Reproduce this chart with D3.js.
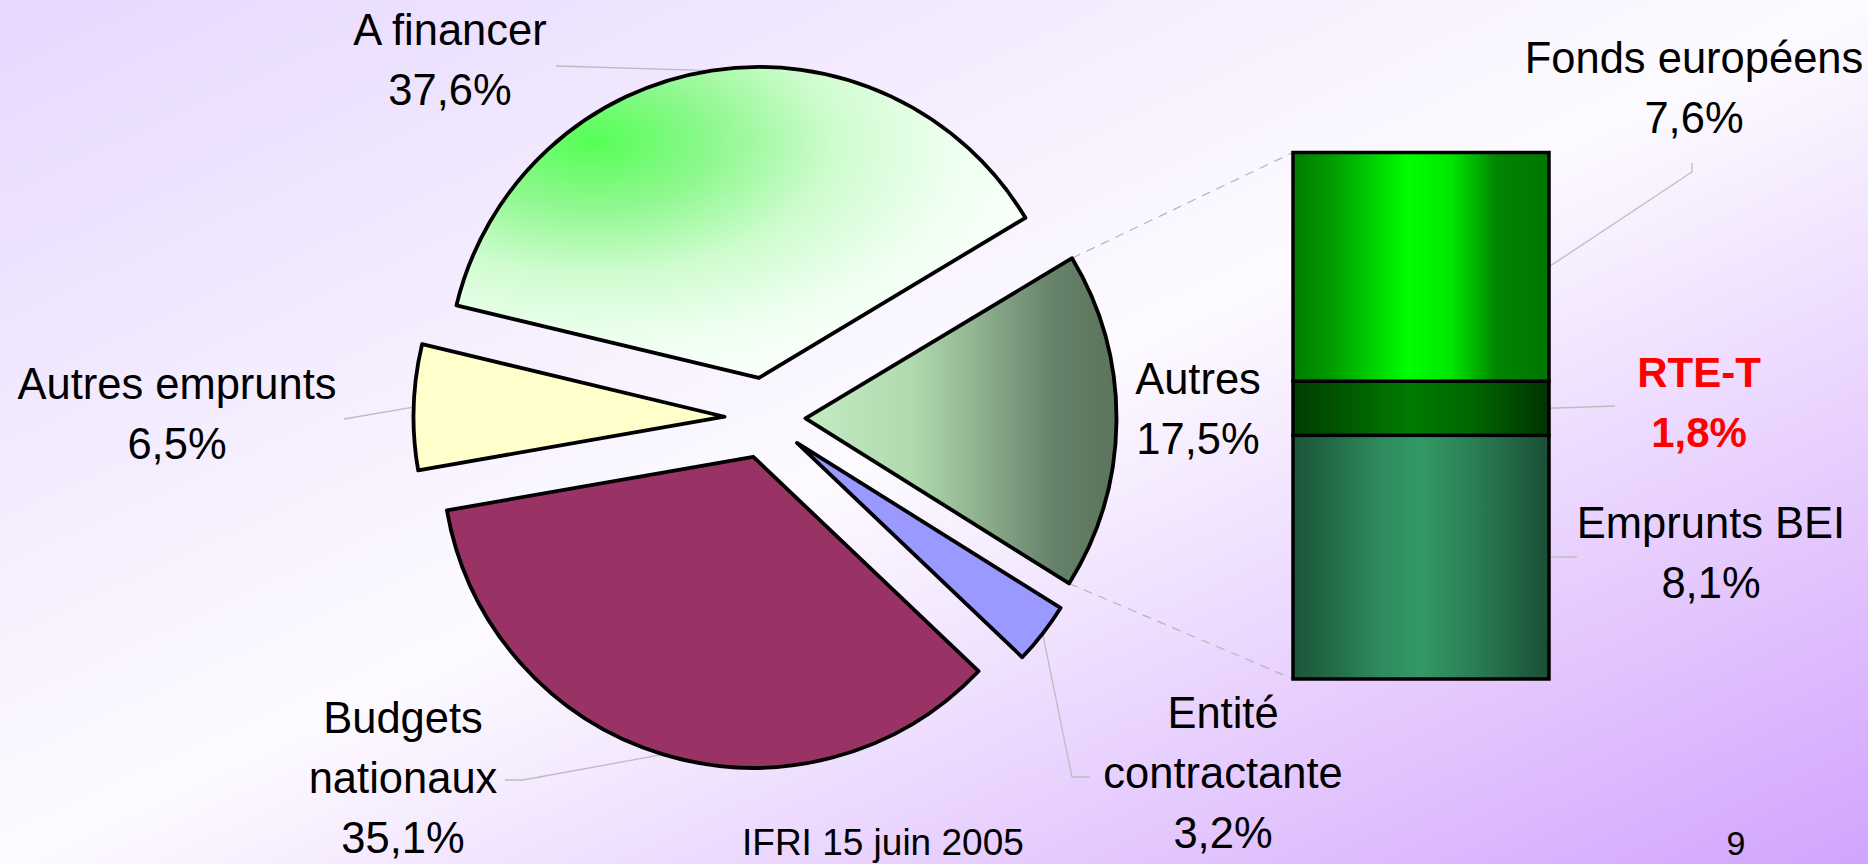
<!DOCTYPE html>
<html><head><meta charset="utf-8">
<script src="https://cdn.jsdelivr.net/npm/d3@7"></script>
<style>html,body{margin:0;padding:0;overflow:hidden;background:#fff;} svg{display:block;}</style>
</head><body>
<svg id="chart" width="1868" height="864"></svg>
<script>
// ---- data ----
const pieCategories = ["A financer", "Autres", "Entité contractante", "Budgets nationaux", "Autres emprunts"];
const pieValues = [37.6, 17.5, 3.2, 35.1, 6.5];
const pieLabelLines = [["A financer"], ["Autres"], ["Entité", "contractante"], ["Budgets", "nationaux"], ["Autres emprunts"]];
const barCategories = ["Emprunts BEI", "RTE-T", "Fonds européens"];
const barValues = [8.1, 1.8, 7.6];
const footerText = "IFRI 15 juin 2005";
const pageNumber = "9";

// ---- layout / style ----
const W = 1868, H = 864;
const pieLayout = { cx: 765, cy: 418, r: 311, explode: 40.5, startDeg: -76.5 };
const barLayout = { x: 1293, width: 256, top: 152.5, bottom: 679 };
const fontFamily = "'Liberation Sans', Arial, sans-serif";
const fontSize = 43.5, lineGap = 60;
const pieFills = ["url(#gFin)", "url(#gAutres)", "#9999ff", "#993366", "#ffffcc"];
const barFills = ["url(#gBEI)", "url(#gRTE)", "url(#gFonds)"];
const pieLabelLayout = [
  { x: 450, y: 45, leader: [[556, 66]] },
  { x: 1198, y: 394, leader: null },
  { x: 1223, y: 728, leader: [[1072, 777], [1090, 777]] },
  { x: 403, y: 733, leader: [[523, 780], [505, 780]] },
  { x: 177, y: 399, leader: [[344, 419]] }
];
const barLabelLayout = [
  { x: 1711, y: 538, leader: [[1577, 557]], color: "#000", bold: false },
  { x: 1699, y: 387, leader: [[1615, 406]], color: "#ff0000", bold: true },
  { x: 1694, y: 73, leader: [[1692, 172], [1692, 163]], color: "#000", bold: false }
];

const fr = d3.formatLocale({ decimal: ",", thousands: " ", grouping: [3], currency: ["", " €"] });
const fmt1 = fr.format(".1f");
const pct = v => fmt1(v) + "%";

const svg = d3.select("#chart");
const defs = svg.append("defs");

function linGrad(id, stops, x2 = "1", y2 = "0") {
  const g = defs.append("linearGradient").attr("id", id)
    .attr("x1", "0").attr("y1", "0").attr("x2", x2).attr("y2", y2);
  stops.forEach(s => g.append("stop").attr("offset", s[0]).attr("stop-color", s[1]));
}
linGrad("gBg", [[0, "#e7d8fe"], [0.5, "#fdfbff"], [1, "#d2a4fd"]], "1", "1");
linGrad("gAutres", [[0, "#c4ecc4"], [0.35, "#afd9af"], [0.6, "#88a988"], [0.8, "#66826a"], [1, "#5b745b"]]);
linGrad("gFonds", [[0, "#007d00"], [0.15, "#009a00"], [0.45, "#00ff00"], [0.62, "#00e600"], [0.8, "#008400"], [1, "#007600"]]);
linGrad("gRTE", [[0, "#003c00"], [0.2, "#005800"], [0.45, "#007b00"], [0.7, "#006600"], [1, "#003300"]]);
linGrad("gBEI", [[0, "#1c5438"], [0.15, "#226b46"], [0.35, "#2e8c5e"], [0.5, "#339966"], [0.7, "#2a7f55"], [0.9, "#1f5e3e"], [1, "#1b5036"]]);
const rg = defs.append("radialGradient").attr("id", "gFin")
  .attr("cx", 0.24).attr("cy", 0.24).attr("r", 0.85).attr("fx", 0.24).attr("fy", 0.24);
[[0, "#55ff55"], [0.25, "#8ff88f"], [0.5, "#cffccf"], [0.75, "#eefff0"], [1, "#ffffff"]]
  .forEach(s => rg.append("stop").attr("offset", s[0]).attr("stop-color", s[1]));

svg.append("rect").attr("width", W).attr("height", H).attr("fill", "url(#gBg)");

// ---- pie ----
const rad = Math.PI / 180;
const pie = d3.pie().value(d => d).sort(null)
  .startAngle(pieLayout.startDeg * rad).endAngle(pieLayout.startDeg * rad + 2 * Math.PI);
const arcs = pie(pieValues);
const arcGen = d3.arc().innerRadius(0).outerRadius(pieLayout.r);
const geo = arcs.map(a => {
  const mid = (a.startAngle + a.endAngle) / 2;
  const ox = pieLayout.cx + pieLayout.explode * Math.sin(mid);
  const oy = pieLayout.cy - pieLayout.explode * Math.cos(mid);
  return {
    a, ox, oy,
    midPt: [ox + pieLayout.r * Math.sin(mid), oy - pieLayout.r * Math.cos(mid)],
    startPt: [ox + pieLayout.r * Math.sin(a.startAngle), oy - pieLayout.r * Math.cos(a.startAngle)],
    endPt: [ox + pieLayout.r * Math.sin(a.endAngle), oy - pieLayout.r * Math.cos(a.endAngle)]
  };
});

// ---- bar scale ----
const barTotal = d3.sum(barValues);
const yBar = d3.scaleLinear().domain([0, barTotal]).range([barLayout.bottom, barLayout.top]);
const stacked = [];
let acc = 0;
barValues.forEach((v, i) => { stacked.push({ i, y0: acc, y1: acc + v, v }); acc += v; });

// series lines (dashed) from "Autres" slice to bar
const gAutres = geo[1];
const dashG = svg.append("g").attr("stroke", "#b4b4b4").attr("stroke-width", 1.2)
  .attr("stroke-dasharray", "9,7").attr("fill", "none");
dashG.append("line").attr("x1", gAutres.startPt[0]).attr("y1", gAutres.startPt[1])
  .attr("x2", barLayout.x).attr("y2", yBar(barTotal));
dashG.append("line").attr("x1", gAutres.endPt[0]).attr("y1", gAutres.endPt[1])
  .attr("x2", barLayout.x).attr("y2", yBar(0));

// leader lines
const line = d3.line();
const leadG = svg.append("g").attr("stroke", "#bcbcbc").attr("stroke-width", 1.3).attr("fill", "none");
geo.forEach((g, i) => {
  const L = pieLabelLayout[i].leader;
  if (L) leadG.append("path").attr("d", line([g.midPt, ...L]));
});
stacked.forEach(s => {
  const ym = yBar((s.y0 + s.y1) / 2);
  leadG.append("path").attr("d", line([[barLayout.x + barLayout.width, ym], ...barLabelLayout[s.i].leader]));
});

// slices
svg.append("g").selectAll("path").data(geo).join("path")
  .attr("transform", d => `translate(${d.ox},${d.oy})`)
  .attr("d", d => arcGen(d.a))
  .attr("fill", (d, i) => pieFills[i])
  .attr("stroke", "#000").attr("stroke-width", 3.8).attr("stroke-linejoin", "round");

// bar segments
svg.append("g").selectAll("rect").data(stacked).join("rect")
  .attr("x", barLayout.x).attr("width", barLayout.width)
  .attr("y", d => yBar(d.y1)).attr("height", d => yBar(d.y0) - yBar(d.y1))
  .attr("fill", d => barFills[d.i])
  .attr("stroke", "#000").attr("stroke-width", 3.5);

// labels
const txtG = svg.append("g").attr("font-family", fontFamily).attr("font-size", fontSize)
  .attr("text-anchor", "middle").attr("fill", "#000");
geo.forEach((g, i) => {
  const lay = pieLabelLayout[i];
  const lines = [...pieLabelLines[i], pct(pieValues[i])];
  lines.forEach((t, k) => txtG.append("text").attr("x", lay.x).attr("y", lay.y + k * lineGap).text(t));
});
stacked.forEach(s => {
  const lay = barLabelLayout[s.i];
  [barCategories[s.i], pct(barValues[s.i])].forEach((t, k) =>
    txtG.append("text").attr("x", lay.x).attr("y", lay.y + k * lineGap)
      .attr("fill", lay.color).attr("font-weight", lay.bold ? "bold" : "normal")
      .attr("font-size", lay.bold ? 42 : fontSize).text(t));
});

// footer
svg.append("text").attr("x", 742).attr("y", 855).attr("font-family", fontFamily)
  .attr("font-size", 37).attr("fill", "#000").text(footerText);
svg.append("text").attr("x", 1736).attr("y", 855).attr("text-anchor", "middle").attr("font-family", fontFamily)
  .attr("font-size", 34).attr("fill", "#000").text(pageNumber);
</script>
</body></html>
